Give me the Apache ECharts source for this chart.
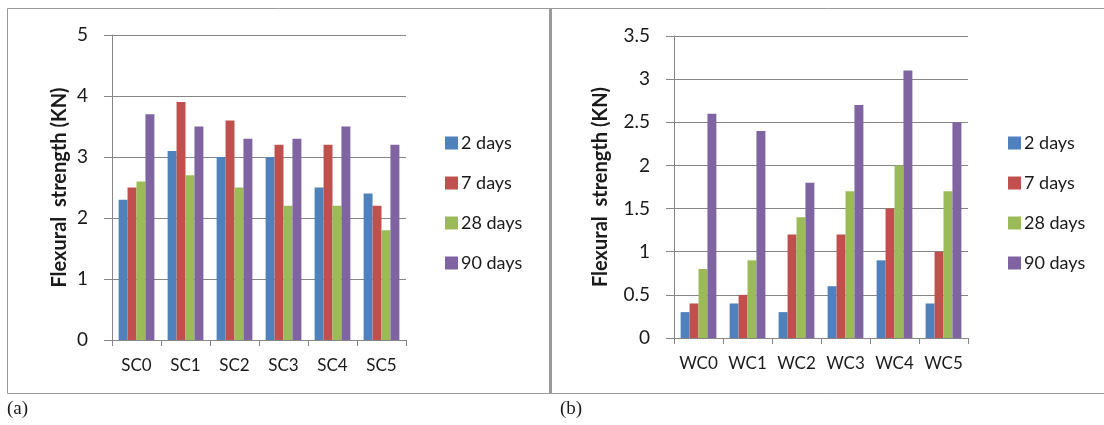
<!DOCTYPE html>
<html>
<head>
<meta charset="utf-8">
<script src="https://cdn.jsdelivr.net/npm/echarts@6/dist/echarts.min.js"></script>
<style>
  html, body { margin: 0; padding: 0; background: #fff; }
  #chart { width: 1104px; height: 425px; }
</style>
</head>
<body>
<div id="chart"></div>
<script>
// ---- data ----
const seriesNames = ['2 days', '7 days', '28 days', '90 days'];
const scCategories = ['SC0', 'SC1', 'SC2', 'SC3', 'SC4', 'SC5'];
const wcCategories = ['WC0', 'WC1', 'WC2', 'WC3', 'WC4', 'WC5'];

const sc2days  = [2.3, 3.1, 3.0, 3.0, 2.5, 2.4];
const sc7days  = [2.5, 3.9, 3.6, 3.2, 3.2, 2.2];
const sc28days = [2.6, 2.7, 2.5, 2.2, 2.2, 1.8];
const sc90days = [3.7, 3.5, 3.3, 3.3, 3.5, 3.2];

const wc2days  = [0.3, 0.4, 0.3, 0.6, 0.9, 0.4];
const wc7days  = [0.4, 0.5, 1.2, 1.2, 1.5, 1.0];
const wc28days = [0.8, 0.9, 1.4, 1.7, 2.0, 1.7];
const wc90days = [2.6, 2.4, 1.8, 2.7, 3.1, 2.5];

const scTicks = [0, 1, 2, 3, 4, 5];
const wcTicks = [0, 0.5, 1, 1.5, 2, 2.5, 3, 3.5];

const yTitle = 'Flexural  strength (KN)';
const panelLabels = ['(a)', '(b)'];

// ---- style ----
const colors = ['#4F81BD', '#C0504D', '#9BBB59', '#8064A2'];
const gridColor = '#868686';
const textColor = '#1a1a1a';
const fontFam = 'Lato, "Open Sans", sans-serif';

const scData = [sc2days, sc7days, sc28days, sc90days];
const wcData = [wc2days, wc7days, wc28days, wc90days];

function yAxisFor(ticks, gridIndex, nameGap) {
  return {
    type: 'value',
    gridIndex: gridIndex,
    min: ticks[0],
    max: ticks[ticks.length - 1],
    interval: ticks[1] - ticks[0],
    name: yTitle,
    nameLocation: 'middle',
    nameRotate: 90,
    nameGap: nameGap,
    nameTextStyle: { fontFamily: fontFam, fontWeight: 'bold', fontSize: 20, color: textColor },
    axisLine: { show: true, lineStyle: { color: gridColor, width: 1 } },
    axisTick: { show: true, length: 8, lineStyle: { color: gridColor } },
    axisLabel: { fontFamily: fontFam, fontSize: 19, color: textColor, margin: 24 },
    splitLine: { show: true, lineStyle: { color: gridColor, width: 1 } }
  };
}

function xAxisFor(cats, gridIndex) {
  return {
    type: 'category',
    gridIndex: gridIndex,
    data: cats,
    axisLine: { show: true, lineStyle: { color: gridColor, width: 1 } },
    axisTick: { show: true, length: 6, alignWithLabel: false, lineStyle: { color: gridColor } },
    axisLabel: { fontFamily: fontFam, fontSize: 17, color: textColor, margin: 17,
                 interval: 0, hideOverlap: false },
    splitLine: { show: false }
  };
}

const series = [];
seriesNames.forEach((n, i) => {
  series.push({
    name: n, type: 'bar', xAxisIndex: 0, yAxisIndex: 0,
    data: scData[i], barGap: '0%', barCategoryGap: '27%',
    itemStyle: { color: colors[i] }, animation: false
  });
});
seriesNames.forEach((n, i) => {
  series.push({
    name: n, type: 'bar', xAxisIndex: 1, yAxisIndex: 1,
    data: wcData[i], barGap: '0%', barCategoryGap: '27%',
    itemStyle: { color: colors[i] }, animation: false
  });
});

function legendFor(left) {
  return {
    left: left, top: 134, orient: 'vertical', padding: 0,
    itemWidth: 13, itemHeight: 13, itemGap: 22,
    icon: 'rect',
    data: seriesNames,
    textStyle: { fontFamily: fontFam, fontSize: 18, color: textColor, padding: [0, 0, 0, -2] },
    selectedMode: false
  };
}

const option = {
  backgroundColor: '#fff',
  animation: false,
  color: colors,
  grid: [
    { left: 112, top: 35, width: 294, height: 305, containLabel: false },
    { left: 674, top: 36, width: 294, height: 302, containLabel: false }
  ],
  xAxis: [xAxisFor(scCategories, 0), xAxisFor(wcCategories, 1)],
  yAxis: [yAxisFor(scTicks, 0, 42), yAxisFor(wcTicks, 1, 63)],
  legend: [legendFor(445), legendFor(1008)],
  series: series,
  graphic: [
    { type: 'rect', silent: true, shape: { x: 7.5, y: 8.5, width: 542, height: 385 },
      style: { fill: 'none', stroke: '#9a9a9a', lineWidth: 1 } },
    { type: 'rect', silent: true, shape: { x: 551.5, y: 8.5, width: 600, height: 385 },
      style: { fill: 'none', stroke: '#9a9a9a', lineWidth: 1 } },
    { type: 'line', silent: true, shape: { x1: 550.5, y1: 8, x2: 550.5, y2: 394 },
      style: { stroke: '#9a9a9a', lineWidth: 3 } },
    { type: 'text', silent: true, left: 7, top: 400,
      style: { text: panelLabels[0], font: '19px "Liberation Serif", serif', fill: '#1a1a1a' } },
    { type: 'text', silent: true, left: 560, top: 400,
      style: { text: panelLabels[1], font: '19px "Liberation Serif", serif', fill: '#1a1a1a' } }
  ]
};

const chart = echarts.init(document.getElementById('chart'), null, { renderer: 'canvas' });
chart.setOption(option);
</script>
</body>
</html>
